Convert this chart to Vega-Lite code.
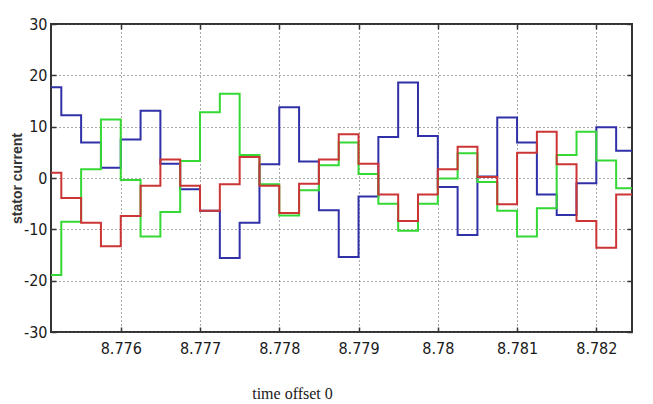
{
  "$schema": "https://vega.github.io/schema/vega-lite/v6.json",
  "width": 581,
  "height": 308,
  "autosize": {"type": "none"},
  "padding": {"left": 51, "top": 24, "right": 21, "bottom": 72},
  "background": "white",
  "config": {
    "view": {"stroke": "#333", "strokeWidth": 2},
    "axis": {
      "labelFont": "Liberation Sans Narrow, DejaVu Sans Condensed, sans-serif",
      "labelFontSize": 16,
      "labelColor": "#1a1a1a",
      "tickColor": "#333",
      "tickWidth": 1.5,
      "domain": false,
      "gridColor": "#555",
      "gridDash": [1, 3],
      "gridWidth": 1
    }
  },
  "data": {
    "values": [
      {"t": 8.77512, "Ia": 17.7, "Ib": -18.9, "Ic": 1.0},
      {"t": 8.77525, "Ia": 12.2, "Ib": -8.5, "Ic": -3.9},
      {"t": 8.7755, "Ia": 6.9, "Ib": 1.7, "Ic": -8.7},
      {"t": 8.77575, "Ia": 2.0, "Ib": 11.4, "Ic": -13.3},
      {"t": 8.776, "Ia": 7.5, "Ib": -0.4, "Ic": -7.4},
      {"t": 8.77625, "Ia": 13.1, "Ib": -11.4, "Ic": -1.5},
      {"t": 8.7765, "Ia": 2.8, "Ib": -6.6, "Ic": 3.6},
      {"t": 8.77675, "Ia": -2.2, "Ib": 3.3, "Ic": -1.5},
      {"t": 8.777, "Ia": -6.4, "Ib": 12.8, "Ic": -6.4},
      {"t": 8.77725, "Ia": -15.6, "Ib": 16.4, "Ic": -1.2},
      {"t": 8.7775, "Ia": -8.7, "Ib": 4.5, "Ic": 4.1},
      {"t": 8.77775, "Ia": 2.7, "Ib": -1.2, "Ic": -1.5},
      {"t": 8.778, "Ia": 13.8, "Ib": -7.3, "Ic": -6.8},
      {"t": 8.77825, "Ia": 3.2, "Ib": -2.4, "Ic": -1.1},
      {"t": 8.7785, "Ia": -6.3, "Ib": 2.5, "Ic": 3.6},
      {"t": 8.77875, "Ia": -15.4, "Ib": 6.9, "Ic": 8.5},
      {"t": 8.779, "Ia": -3.6, "Ib": 0.8, "Ic": 2.8},
      {"t": 8.77925, "Ia": 8.0, "Ib": -5.0, "Ic": -3.2},
      {"t": 8.7795, "Ia": 18.6, "Ib": -10.3, "Ic": -8.4},
      {"t": 8.77975, "Ia": 8.2, "Ib": -5.0, "Ic": -3.2},
      {"t": 8.78, "Ia": -1.75, "Ib": -0.1, "Ic": 1.7},
      {"t": 8.78025, "Ia": -11.1, "Ib": 4.8, "Ic": 6.1},
      {"t": 8.7805, "Ia": 0.3, "Ib": -0.8, "Ic": 0.2},
      {"t": 8.78075, "Ia": 11.8, "Ib": -6.4, "Ic": -5.1},
      {"t": 8.781, "Ia": 6.9, "Ib": -11.4, "Ic": 4.9},
      {"t": 8.78125, "Ia": -3.2, "Ib": -5.9, "Ic": 9.0},
      {"t": 8.7815, "Ia": -7.2, "Ib": 4.5, "Ic": 2.7},
      {"t": 8.78175, "Ia": -1.0, "Ib": 9.0, "Ic": -8.4},
      {"t": 8.782, "Ia": 9.9, "Ib": 3.4, "Ic": -13.6},
      {"t": 8.78225, "Ia": 5.3, "Ib": -2.0, "Ic": -3.2},
      {"t": 8.78245, "Ia": 5.3, "Ib": -2.0, "Ic": -3.2}
    ]
  },
  "transform": [{"fold": ["Ia", "Ib", "Ic"], "as": ["phase", "current"]}],
  "resolve": {"axis": {"x": "independent", "y": "independent"}},
  "layer": [
    {
      "mark": {"type": "line", "interpolate": "step-after", "strokeWidth": 2, "clip": true},
      "encoding": {
        "x": {
          "field": "t", "type": "quantitative",
          "scale": {"domain": [8.77512, 8.78245], "zero": false, "nice": false},
          "axis": {
            "values": [8.776, 8.777, 8.778, 8.779, 8.78, 8.781, 8.782],
            "format": ".3~f",
            "grid": true,
            "tickSize": -5,
            "labelPadding": 13,
            "title": "time offset 0",
            "titleFont": "Liberation Serif, serif",
            "titleFontSize": 16,
            "titleFontWeight": "normal",
            "titleColor": "#1a1a1a",
            "titleX": 241,
            "titleY": 61,
            "titleBaseline": "middle",
            "titleAnchor": "middle"
          }
        },
        "y": {
          "field": "current", "type": "quantitative",
          "scale": {"domain": [-30, 30], "nice": false},
          "axis": {
            "values": [-30, -20, -10, 0, 10, 20, 30],
            "labelExpr": "'' + datum.value",
            "grid": true,
            "tickSize": -5,
            "labelPadding": 9,
            "title": "stator current",
            "titleFont": "Liberation Sans, sans-serif",
            "titleFontSize": 14,
            "titleFontWeight": "bold",
            "titleColor": "#333",
            "titleX": -34,
            "titleY": 154,
            "titleAngle": -90,
            "titleBaseline": "middle",
            "titleAnchor": "middle"
          }
        },
        "color": {
          "field": "phase", "type": "nominal",
          "scale": {"domain": ["Ia", "Ib", "Ic"], "range": ["#3030a8", "#35d835", "#cc3535"]},
          "legend": null
        }
      }
    },
    {
      "mark": {"type": "line", "interpolate": "step-after", "opacity": 0},
      "encoding": {
        "x": {
          "field": "t", "type": "quantitative",
          "scale": {"domain": [8.77512, 8.78245], "zero": false, "nice": false},
          "axis": {"orient": "top", "values": [8.776, 8.777, 8.778, 8.779, 8.78, 8.781, 8.782], "labels": false, "grid": false, "tickSize": -5, "title": null}
        },
        "y": {
          "field": "current", "type": "quantitative",
          "scale": {"domain": [-30, 30], "nice": false},
          "axis": {"orient": "right", "values": [-30, -20, -10, 0, 10, 20, 30], "labels": false, "grid": false, "tickSize": -5, "title": null}
        },
        "detail": {"field": "phase", "type": "nominal"}
      }
    }
  ]
}
